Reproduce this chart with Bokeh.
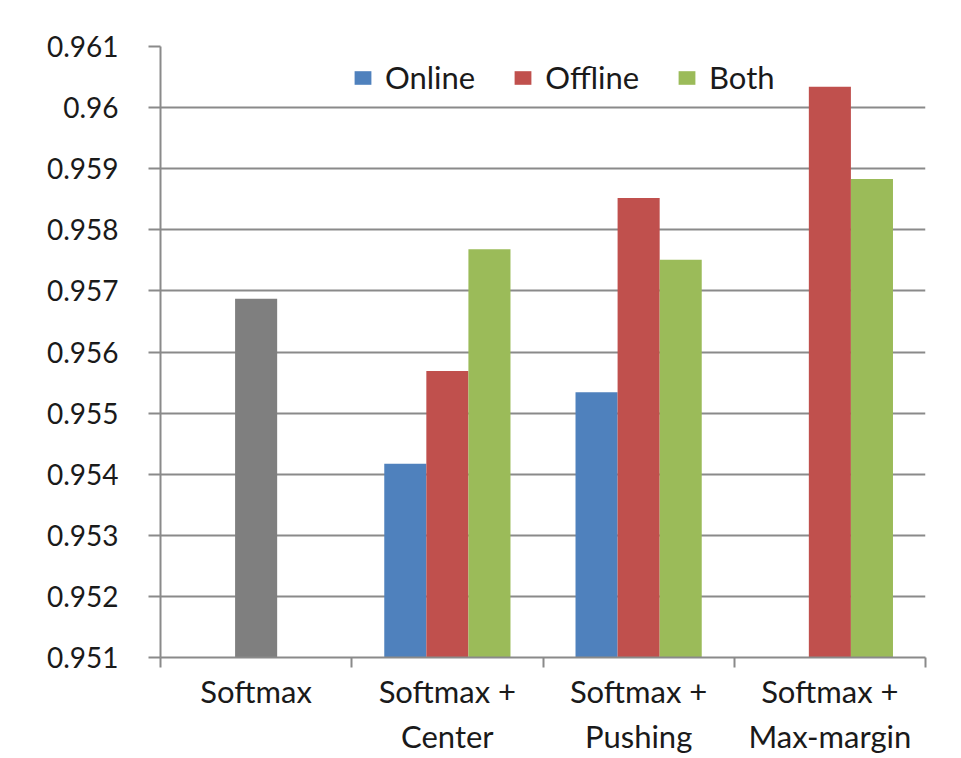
import numpy as np
from bokeh.plotting import figure
from bokeh.models import FixedTicker, Range1d, Legend, LegendItem
from bokeh.embed import file_html
from bokeh.resources import INLINE

# Accuracy per training method
categories = ["Softmax", "Softmax +\nCenter", "Softmax +\nPushing", "Softmax +\nMax-margin"]
softmax_only = [0.95687, np.nan, np.nan, np.nan]
online = [np.nan, 0.95417, 0.95534, np.nan]
offline = [np.nan, 0.95569, 0.95852, 0.96034]
both = [np.nan, 0.95768, 0.95751, 0.95883]

y_ticks = [0.951, 0.952, 0.953, 0.954, 0.955, 0.956, 0.957, 0.958, 0.959, 0.96, 0.961]
y_tick_labels = ["0.951", "0.952", "0.953", "0.954", "0.955", "0.956", "0.957",
                 "0.958", "0.959", "0.96", "0.961"]

FONT = "Lato"
TEXT_COLOR = "#1a1a1a"
GRID = "#8a8a8a"

p = figure(width=961, height=758, output_backend="svg", toolbar_location=None,
           x_range=Range1d(0, len(categories)),
           y_range=Range1d(y_ticks[0], y_ticks[-1]),
           min_border_left=160, min_border_right=36, min_border_top=46,
           min_border_bottom=100)
p.outline_line_color = None
p.background_fill_color = "white"
p.border_fill_color = "white"

centers = np.arange(len(categories)) + 0.5
bar_w = 0.22
base = y_ticks[0]


def bars(values, offset, color):
    vals = np.asarray(values, dtype=float)
    keep = ~np.isnan(vals)
    return p.vbar(x=(centers + offset)[keep], top=vals[keep], bottom=base,
                  width=bar_w, fill_color=color, line_color=None)


bars(softmax_only, 0.0, "#7F7F7F")
r_on = bars(online, -bar_w, "#4F81BD")
r_off = bars(offline, 0.0, "#C0504D")
r_both = bars(both, bar_w, "#9BBB59")

# y axis
p.yaxis.ticker = FixedTicker(ticks=y_ticks, minor_ticks=[])
p.yaxis.major_label_overrides = {t: s for t, s in zip(y_ticks, y_tick_labels)}
p.yaxis.major_tick_out = 12
p.yaxis.major_tick_in = 0
p.yaxis.minor_tick_line_color = None
p.yaxis.axis_line_color = GRID
p.yaxis.axis_line_width = 2
p.yaxis.major_tick_line_color = GRID
p.yaxis.major_tick_line_width = 2
p.yaxis.major_label_text_font = FONT
p.yaxis.major_label_text_font_size = "28px"
p.yaxis.major_label_text_color = TEXT_COLOR
p.yaxis.major_label_standoff = 30

# x axis: labels at group centres, tick marks at group boundaries
p.xaxis.ticker = FixedTicker(ticks=list(centers),
                             minor_ticks=list(range(len(categories) + 1)))
p.xaxis.major_label_overrides = {float(c): lab for c, lab in zip(centers, categories)}
p.xaxis.major_tick_out = 0
p.xaxis.major_tick_in = 0
p.xaxis.minor_tick_out = 10
p.xaxis.minor_tick_in = 0
p.xaxis.minor_tick_line_color = GRID
p.xaxis.minor_tick_line_width = 2
p.xaxis.axis_line_color = GRID
p.xaxis.axis_line_width = 2
p.xaxis.major_label_text_font = FONT
p.xaxis.major_label_text_font_size = "31px"
p.xaxis.major_label_text_color = TEXT_COLOR
p.xaxis.major_label_standoff = 4
p.xaxis.major_label_text_line_height = 1.2

p.xgrid.grid_line_color = None
p.ygrid.grid_line_color = GRID
p.ygrid.grid_line_width = 2

legend = Legend(items=[LegendItem(label="Online", renderers=[r_on]),
                       LegendItem(label="Offline", renderers=[r_off]),
                       LegendItem(label="Both", renderers=[r_both])],
                orientation="horizontal", location=(192, 561),
                border_line_color=None, background_fill_alpha=0,
                label_text_font=FONT, label_text_font_size="31px",
                label_text_color=TEXT_COLOR,
                glyph_width=21, glyph_height=17, label_standoff=12,
                spacing=37, padding=6, margin=0)
p.add_layout(legend, "center")

open("out.html", "w").write(file_html(p, INLINE))
